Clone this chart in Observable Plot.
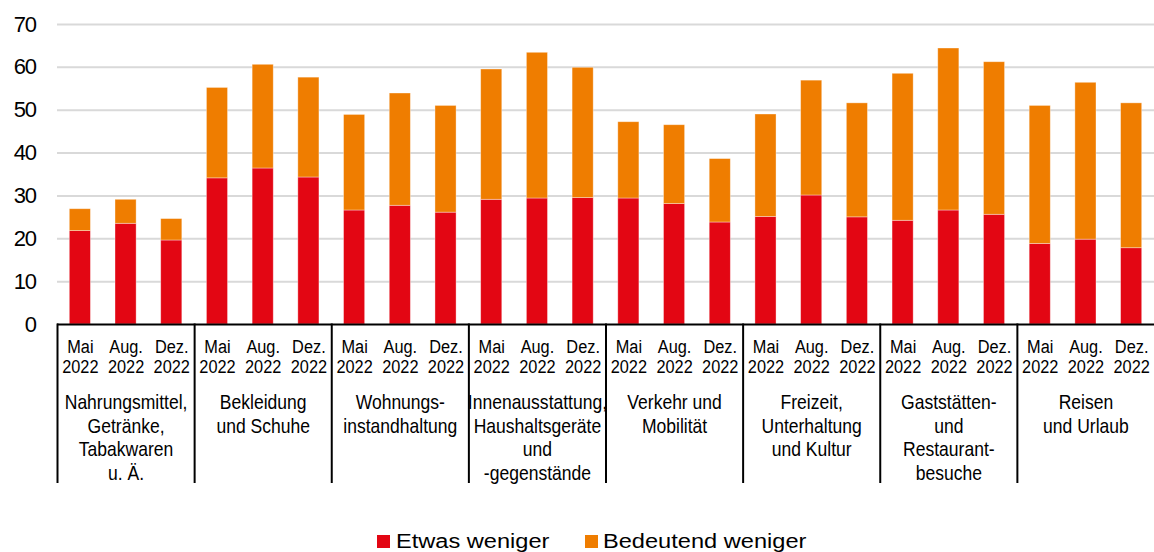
<!DOCTYPE html>
<html>
<head>
<meta charset="utf-8">
<script src="https://cdn.jsdelivr.net/npm/d3@7"></script>
<script src="https://cdn.jsdelivr.net/npm/@observablehq/plot@0.6"></script>
<style>
  html, body { margin: 0; padding: 0; background: #fff; }
  svg { display: block; }
  #legend { position: relative; width: 1154px; height: 52px; font-family: "Liberation Sans", Arial, sans-serif; font-size: 20px; color: #000; }
  .sw { position: absolute; width: 13px; height: 13px; top: 35px; }
  .lt { position: absolute; top: 31px; line-height: 20px; white-space: nowrap; transform: scaleX(1.18); transform-origin: left center; }
</style>
</head>
<body>
<div id="chart"></div>
<div id="legend"></div>
<script>
const categories = [
  "Nahrungsmittel,\nGetränke,\nTabakwaren\nu. Ä.",
  "Bekleidung\nund Schuhe",
  "Wohnungs-\ninstandhaltung",
  "Innenausstattung,\nHaushaltsgeräte\nund\n-gegenstände",
  "Verkehr und\nMobilität",
  "Freizeit,\nUnterhaltung\nund Kultur",
  "Gaststätten-\nund\nRestaurant-\nbesuche",
  "Reisen\nund Urlaub"
];
const periods = ["Mai\n2022", "Aug.\n2022", "Dez.\n2022"];
const seriesNames = ["Etwas weniger", "Bedeutend weniger"];
const seriesColors = ["#e30613", "#ef7d00"];
const etwasWeniger = [
  21.8, 23.5, 19.6,
  34.1, 36.4, 34.3,
  26.6, 27.7, 26.1,
  29.1, 29.4, 29.5,
  29.4, 28.1, 23.8,
  25.1, 30.1, 25.0,
  24.2, 26.6, 25.6,
  18.8, 19.8, 17.8
];
const bedeutendWeniger = [
  5.1, 5.6, 5.0,
  21.1, 24.2, 23.3,
  22.3, 26.2, 24.9,
  30.4, 34.0, 30.4,
  17.8, 18.4, 14.8,
  23.9, 26.8, 26.6,
  34.3, 37.8, 35.6,
  32.2, 36.6, 33.8
];
const yTicks = [0, 10, 20, 30, 40, 50, 60, 70];

// Build tidy rows
const slots = [];
categories.forEach((c, g) => periods.forEach((p, k) => slots.push({ i: g * 3 + k, group: c, period: p })));
const rows = [];
[etwasWeniger, bedeutendWeniger].forEach((vals, s) => {
  slots.forEach((slot, j) => rows.push({ i: slot.i, series: seriesNames[s], value: vals[j] }));
});
const groupStarts = categories.map((c, g) => g * 3);

const font = "'Liberation Sans', Arial, sans-serif";

const plot = Plot.plot({
  width: 1154,
  height: 500,
  marginLeft: 57,
  marginRight: 0,
  marginTop: 24,
  marginBottom: 176,
  style: { fontFamily: font, fontSize: "22px", color: "#000", background: "#fff" },
  x: { domain: [0, slots.length], axis: null },
  y: { domain: [0, 70], ticks: yTicks, tickSize: 0, tickPadding: 22, label: null, tickFormat: d => String(d) },
  color: { domain: seriesNames, range: seriesColors },
  marks: [
    Plot.ruleY(yTicks.filter(t => t > 0), { stroke: "#d9d9d9", strokeWidth: 2 }),
    Plot.rectY(rows, Plot.stackY({
      x1: "i", x2: d => d.i + 1, y: "value", fill: "series",
      insetLeft: 12.3, insetRight: 12.3,
      stroke: "#ffffff", strokeOpacity: 0.45, strokeWidth: 0.8
    })),
    Plot.ruleY([0], { stroke: "#000", strokeWidth: 2 }),
    Plot.ruleX(groupStarts, { x: d => d, stroke: "#000", strokeWidth: 2, insetTop: 299.5, insetBottom: -159 }),
    // period labels
    Plot.text(slots, {
      x: d => d.i + 0.5, text: "period", frameAnchor: "bottom", lineAnchor: "top",
      dy: 15, lineHeight: 1.03, fontSize: 19, fill: "#000"
    }),
    // category labels
    Plot.text(categories, {
      x: (d, g) => g * 3 + 1.5, text: d => d, frameAnchor: "bottom", lineAnchor: "top",
      dy: 67.8, lineHeight: 1.124, fontSize: 21, fill: "#000"
    })
  ]
});
document.getElementById("chart").appendChild(plot);

// Narrow the category-axis type horizontally (Arial Narrow look) without moving anchors
const squeeze = [0.86, 0.835];
plot.querySelectorAll('g[aria-label="text"]').forEach((g, k) => {
  g.querySelectorAll("text").forEach(t => {
    let tr = t.getAttribute("transform") || "";
    const x = t.getAttribute("x"), y = t.getAttribute("y");
    if (x != null || y != null) {
      tr += ` translate(${x || 0},${y || 0})`;
      t.removeAttribute("x"); t.removeAttribute("y");
      t.querySelectorAll("tspan").forEach(s => { if (x != null && s.getAttribute("x") === x) s.setAttribute("x", 0); });
    }
    t.setAttribute("transform", tr + ` scale(${squeeze[k] ?? 0.85},1)`);
  });
});
// Slightly tighter y tick labels
plot.querySelectorAll('g[aria-label="y-axis tick label"], g[aria-label="y-axis"]').forEach(g => {
  g.style.letterSpacing = "-1.4px";
});

// Legend
const legend = document.getElementById("legend");
const swX = [377, 585];
const txX = [396, 603];
seriesNames.forEach((name, s) => {
  const sw = document.createElement("div");
  sw.className = "sw";
  sw.style.left = swX[s] + "px";
  sw.style.background = seriesColors[s];
  legend.appendChild(sw);
  const t = document.createElement("div");
  t.className = "lt";
  t.style.left = txX[s] + "px";
  t.textContent = name;
  legend.appendChild(t);
});
</script>
</body>
</html>
